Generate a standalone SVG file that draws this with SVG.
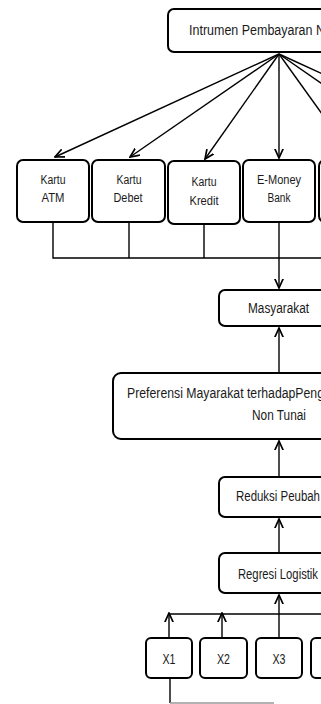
<svg xmlns="http://www.w3.org/2000/svg" width="321" height="704" viewBox="0 0 321 704">
<defs>
<marker id="arr" viewBox="0 0 10 10" refX="9.3" refY="5" markerWidth="10" markerHeight="10" markerUnits="userSpaceOnUse" orient="auto">
<path d="M0,0.8 L9.3,5 L0,9.2" fill="none" stroke="#000" stroke-width="1.7"/>
</marker>
<style>
.box{fill:#fff;stroke:#000;stroke-width:2}
.ln{fill:none;stroke:#000;stroke-width:1.4}
.ar{fill:none;stroke:#000;stroke-width:1.4;marker-end:url(#arr)}
text{font-family:"Liberation Sans","DejaVu Sans",sans-serif;fill:#1a1a1a}
.big{font-size:14px}
.sm{font-size:12.5px;text-anchor:middle}
.xs{font-size:14px;text-anchor:middle}
</style>
</defs>
<rect width="321" height="704" fill="#fff"/>
<g id="connectors">
<line class="ar" x1="279" y1="54" x2="55" y2="157"/>
<line class="ar" x1="279" y1="54" x2="130" y2="157"/>
<line class="ar" x1="279" y1="54" x2="205" y2="159"/>
<line class="ar" x1="279" y1="54" x2="279" y2="158"/>
<line class="ar" x1="279" y1="54" x2="353" y2="157"/>
<line class="ar" x1="279" y1="54" x2="428" y2="157"/>
<line class="ar" x1="279" y1="54" x2="503" y2="157"/>
<polyline class="ln" points="53,222 53,258 330,258"/>
<line class="ln" x1="129" y1="222" x2="129" y2="258"/>
<line class="ln" x1="204" y1="224" x2="204" y2="258"/>
<line class="ar" x1="279" y1="222" x2="279" y2="288"/>
<line class="ar" x1="279" y1="373" x2="279" y2="328"/>
<line class="ar" x1="279" y1="477" x2="279" y2="441"/>
<line class="ar" x1="279" y1="553" x2="279" y2="519"/>
<line class="ar" x1="279" y1="638" x2="279" y2="595"/>
<line class="ln" x1="169" y1="614" x2="330" y2="614"/>
<line class="ar" x1="169" y1="638" x2="169" y2="613"/>
<line class="ar" x1="222" y1="638" x2="222" y2="613"/>
<line class="ln" x1="170" y1="678" x2="170" y2="703"/>
<line x1="170" y1="703" x2="274" y2="703" stroke="#999" stroke-width="1.4"/>
</g>
<g id="node-intrumen">
<rect class="box" x="168" y="9" width="222" height="43" rx="6"/>
<text class="big" x="189" y="35" textLength="136" lengthAdjust="spacingAndGlyphs">Intrumen Pembayaran N</text>
</g>
<g id="node-atm">
<rect class="box" x="17" y="160" width="72" height="62" rx="6"/>
<text class="sm" x="53" y="184" textLength="25" lengthAdjust="spacingAndGlyphs">Kartu</text>
<text class="sm" x="53" y="202" textLength="23" lengthAdjust="spacingAndGlyphs">ATM</text>
</g>
<g id="node-debet">
<rect class="box" x="92" y="160" width="73" height="62" rx="6"/>
<text class="sm" x="129" y="184" textLength="25" lengthAdjust="spacingAndGlyphs">Kartu</text>
<text class="sm" x="128" y="202" textLength="29" lengthAdjust="spacingAndGlyphs">Debet</text>
</g>
<g id="node-kredit">
<rect class="box" x="168" y="161" width="72" height="63" rx="6"/>
<text class="sm" x="204" y="186" textLength="25" lengthAdjust="spacingAndGlyphs">Kartu</text>
<text class="sm" x="204" y="205" textLength="29" lengthAdjust="spacingAndGlyphs">Kredit</text>
</g>
<g id="node-emoney">
<rect class="box" x="243" y="160" width="72" height="62" rx="6"/>
<text class="sm" x="279" y="184" textLength="44" lengthAdjust="spacingAndGlyphs">E-Money</text>
<text class="sm" x="279" y="202" textLength="23" lengthAdjust="spacingAndGlyphs">Bank</text>
</g>
<g id="node-5">
<rect class="box" x="319" y="160" width="72" height="62" rx="6"/>
</g>
<g id="node-masyarakat">
<rect class="box" x="219" y="290" width="120" height="36" rx="6"/>
<text class="big" x="248" y="313" textLength="61" lengthAdjust="spacingAndGlyphs">Masyarakat</text>
</g>
<g id="node-preferensi">
<rect class="box" x="113" y="373" width="332" height="66" rx="8"/>
<text class="big" x="127" y="398" textLength="197" lengthAdjust="spacingAndGlyphs">Preferensi Mayarakat terhadapPeng</text>
<text class="big" x="252" y="420" textLength="54" lengthAdjust="spacingAndGlyphs">Non Tunai</text>
</g>
<g id="node-reduksi">
<rect class="box" x="219" y="477" width="120" height="40" rx="6"/>
<text class="big" x="236" y="501" textLength="84" lengthAdjust="spacingAndGlyphs">Reduksi Peubah</text>
</g>
<g id="node-regresi">
<rect class="box" x="219" y="553" width="120" height="40" rx="6"/>
<text class="big" x="238" y="579" textLength="80" lengthAdjust="spacingAndGlyphs">Regresi Logistik</text>
</g>
<g id="node-x1">
<rect class="box" x="146" y="638" width="46" height="40" rx="5"/>
<text class="xs" x="169" y="664" textLength="13" lengthAdjust="spacingAndGlyphs">X1</text>
</g>
<g id="node-x2">
<rect class="box" x="200" y="638" width="47" height="40" rx="5"/>
<text class="xs" x="223.5" y="664" textLength="13" lengthAdjust="spacingAndGlyphs">X2</text>
</g>
<g id="node-x3">
<rect class="box" x="256" y="638" width="46" height="40" rx="5"/>
<text class="xs" x="279" y="664" textLength="13" lengthAdjust="spacingAndGlyphs">X3</text>
</g>
<g id="node-x4">
<rect class="box" x="311" y="638" width="46" height="40" rx="5"/>
</g>
</svg>
